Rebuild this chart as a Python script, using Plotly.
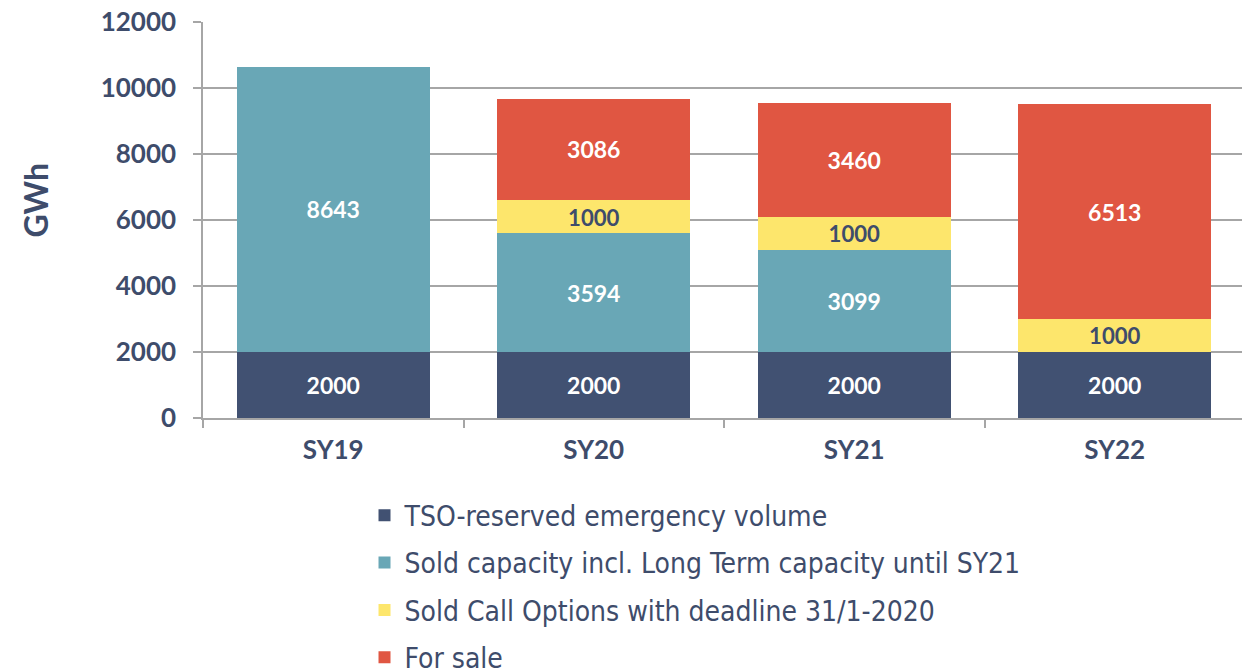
import plotly.graph_objects as go

categories = ["SY19", "SY20", "SY21", "SY22"]
tso_reserved = [2000, 2000, 2000, 2000]
sold_capacity = [8643, 3594, 3099, None]
call_options = [None, 1000, 1000, 1000]
for_sale = [None, 3086, 3460, 6513]

series_names = [
    "TSO-reserved emergency volume",
    "Sold capacity incl. Long Term capacity until SY21",
    "Sold Call Options with deadline 31/1-2020",
    "For sale",
]
colors = ["#415172", "#69A7B6", "#FDE66C", "#E05642"]
text_colors = ["white", "white", "#3E4C6B", "white"]
series = [tso_reserved, sold_capacity, call_options, for_sale]

navy = "#3E4C6B"
fig = go.Figure()
for i, (name, vals) in enumerate(zip(series_names, series)):
    fig.add_trace(go.Bar(
        x=categories, y=vals, name=name,
        marker=dict(color=colors[i], line=dict(width=0)),
        text=[str(v) if v is not None else "" for v in vals],
        texttemplate="<b>%{text}</b>",
        textposition="inside", insidetextanchor="middle", textangle=0,
        textfont=dict(family="Lato", size=23, color=text_colors[i]),
        width=0.74, legendgroup=f"g{i}",
    ))

fig.update_layout(
    barmode="stack",
    width=1250, height=700,
    margin=dict(l=195, r=13, t=14, b=290),
    plot_bgcolor="white", paper_bgcolor="white",
    font=dict(family="Lato", color=navy),
    legend=dict(
        x=0.155, y=-0.183, xanchor="left", yanchor="top",
        orientation="v", traceorder="grouped",
        font=dict(family="DejaVu Sans Condensed", size=28, color=navy),
        tracegroupgap=8, itemwidth=30,
    ),
    showlegend=True,
    annotations=[dict(
        text="<b>GWh</b>", textangle=-90, showarrow=False,
        xref="paper", yref="paper", x=-0.161, y=0.55,
        xanchor="center", yanchor="middle",
        font=dict(family="Lato", size=32, color=navy),
    )],
)
fig.update_yaxes(
    range=[0, 12000], dtick=2000, tickformat="d",
    tickprefix="<b>", ticksuffix="</b>",
    showgrid=True, gridcolor="#A6A6A6", gridwidth=1.5,
    showline=True, linecolor="#A6A6A6", linewidth=1.5,
    ticks="outside", ticklen=8, tickcolor="#A6A6A6", tickwidth=1.5,
    ticklabelstandoff=12, ticklabeloverflow="allow",
    tickfont=dict(family="Lato", size=26, color=navy),
    zeroline=False, automargin=False,
)
fig.update_xaxes(
    showline=True, linecolor="#A6A6A6", linewidth=1.5,
    ticks="outside", ticklen=8, tickcolor="#A6A6A6", tickwidth=1.5,
    tickson="boundaries", ticklabelstandoff=8,
    tickfont=dict(family="Lato", size=26, color=navy),
    tickprefix="<b>", ticksuffix="</b>",
    automargin=False,
)

fig.write_html("out.html")
